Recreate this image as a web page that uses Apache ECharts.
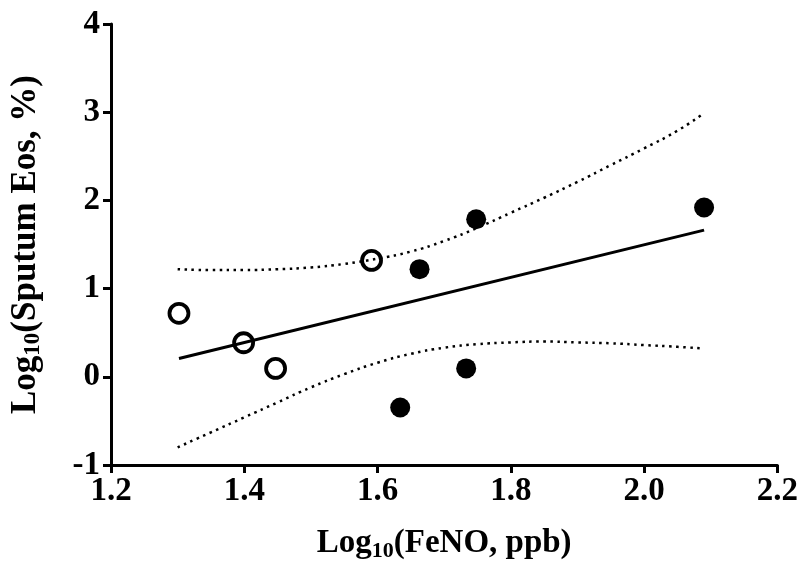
<!DOCTYPE html>
<html>
<head>
<meta charset="utf-8">
<script src="https://cdn.jsdelivr.net/npm/echarts@6/dist/echarts.min.js"></script>
<style>
html,body{margin:0;padding:0;background:#fff;}
#chart{width:801px;height:567px;}
</style>
</head>
<body>
<div id="chart"></div>
<script>
// Open circles (group 1)
const openX = [1.302, 1.399, 1.447, 1.591];
const openY = [0.72, 0.386, 0.095, 1.32];
// Filled circles (group 2)
const filledX = [1.634, 1.663, 1.733, 1.748, 2.09];
const filledY = [-0.348, 1.22, 0.095, 1.786, 1.92];
// Regression line end points
const fitX = [1.302, 2.09];
const fitY = [0.207, 1.663];
// 95% confidence band
const bandX = [1.30, 1.35, 1.40, 1.45, 1.50, 1.55, 1.60, 1.65, 1.70, 1.75, 1.80, 1.85, 1.90, 1.95, 2.00, 2.05, 2.09];
const upperY = [1.22, 1.21, 1.21, 1.22, 1.24, 1.28, 1.34, 1.42, 1.54, 1.69, 1.86, 2.03, 2.21, 2.40, 2.59, 2.79, 2.99];
const lowerY = [-0.80, -0.63, -0.46, -0.29, -0.12, 0.03, 0.16, 0.26, 0.33, 0.37, 0.39, 0.40, 0.39, 0.38, 0.36, 0.34, 0.32];
// Axes
const xMin = 1.2, xMax = 2.2, xStep = 0.2;
const yMin = -1, yMax = 4, yStep = 1;

const zip = (a, b) => a.map((v, i) => [v, b[i]]);
const FONT = '"Liberation Serif", "Times New Roman", serif';

const chart = echarts.init(document.getElementById('chart'));
const axisCommon = {
  axisLine: { show: true, onZero: false, lineStyle: { color: '#000', width: 3 } },
  axisTick: { show: true, length: 8, lineStyle: { color: '#000', width: 3 } },
  splitLine: { show: false },
  axisLabel: { color: '#000', fontFamily: FONT, fontWeight: 'bold', fontSize: 33 }
};
function nameRich(size) {
  return {
    a: { fontFamily: FONT, fontWeight: 'bold', fontSize: size, color: '#000' },
    b: { fontFamily: FONT, fontWeight: 'bold', fontSize: Math.round(size * 0.66), color: '#000', padding: [Math.round(size * 0.45), 0, 0, 0] }
  };
}
chart.setOption({
  animation: false,
  backgroundColor: '#fff',
  grid: { left: 108.5, right: 22, top: 24, bottom: 96.5, containLabel: false },
  xAxis: Object.assign({}, axisCommon, {
    type: 'value', min: xMin, max: xMax, interval: xStep,
    axisLabel: Object.assign({}, axisCommon.axisLabel, { margin: 10, formatter: v => v.toFixed(1) }),
    name: '{a|Log}{b|10}{a|(FeNO, ppb)}',
    nameLocation: 'middle', nameGap: 60,
    nameTextStyle: { rich: nameRich(33) }
  }),
  yAxis: Object.assign({}, axisCommon, {
    type: 'value', min: yMin, max: yMax, interval: yStep,
    axisLabel: Object.assign({}, axisCommon.axisLabel, { margin: 11 }),
    name: '{a|Log}{b|10}{a|(Sputum Eos, %)}',
    nameLocation: 'middle', nameGap: 66, nameRotate: 90,
    nameTextStyle: { rich: nameRich(35) }
  }),
  series: [
    {
      type: 'line', data: zip(bandX, upperY), smooth: true, showSymbol: false, symbol: 'none',
      lineStyle: { color: '#000', width: 2.5, type: [2.5, 4.5], opacity: 1 }, z: 2
    },
    {
      type: 'line', data: zip(bandX, lowerY), smooth: true, showSymbol: false, symbol: 'none',
      lineStyle: { color: '#000', width: 2.5, type: [2.5, 4.5], opacity: 1 }, z: 2
    },
    {
      type: 'line', data: zip(fitX, fitY), showSymbol: false, symbol: 'none',
      lineStyle: { color: '#000', width: 3, opacity: 1 }, z: 2
    },
    {
      type: 'scatter', data: zip(openX, openY), symbol: 'circle', symbolSize: 19,
      itemStyle: { color: 'rgba(255,255,255,0)', borderColor: '#000', borderWidth: 3.8, opacity: 1 }, z: 3
    },
    {
      type: 'scatter', data: zip(filledX, filledY), symbol: 'circle', symbolSize: 20,
      itemStyle: { color: '#000', opacity: 1 }, z: 3
    }
  ]
});
</script>
</body>
</html>
